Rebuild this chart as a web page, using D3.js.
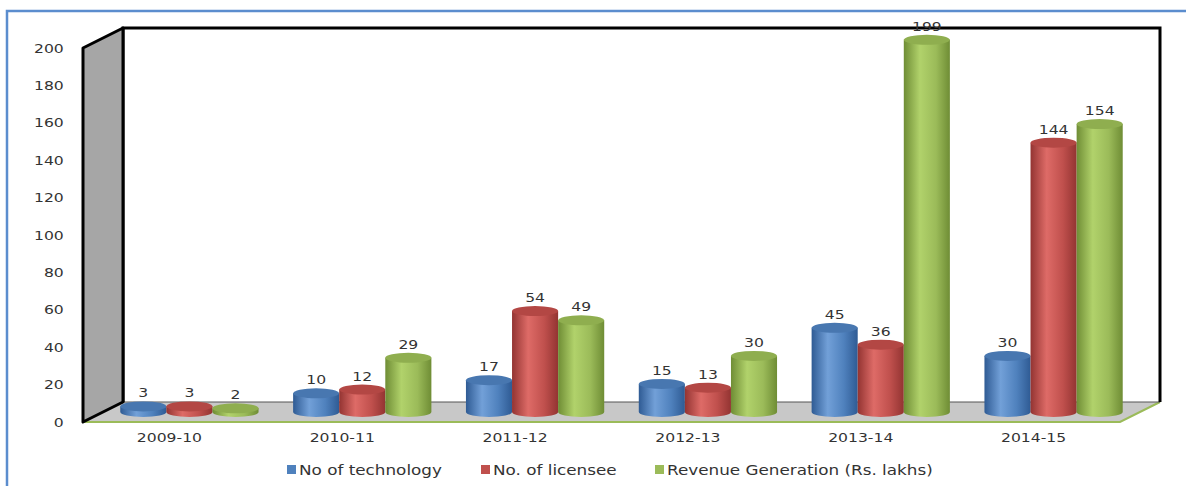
<!DOCTYPE html>
<html>
<head>
<meta charset="utf-8">
<script src="https://cdn.jsdelivr.net/npm/d3@7"></script>
<style>
  body { margin: 0; background: #fff; }
  text { font-family: "DejaVu Sans", sans-serif; fill: #333; }
</style>
</head>
<body>
<svg id="chart"></svg>
<script>
const years = ["2009-10", "2010-11", "2011-12", "2012-13", "2013-14", "2014-15"];
const technology = [3, 10, 17, 15, 45, 30];
const licensee = [3, 12, 54, 13, 36, 144];
const revenue = [2, 29, 49, 30, 199, 154];
const seriesNames = ["No of technology", "No. of licensee", "Revenue Generation (Rs. lakhs)"];
const yTicks = [0, 20, 40, 60, 80, 100, 120, 140, 160, 180, 200];

const W = 1186, H = 486;
const front = { left: 83, right: 1120, bottom: 422, top: 48 };
const depth = { dx: 40, dy: -20 };
const stretch = "scale(1.2,1)";

const series = [
  { name: seriesNames[0], values: technology, base: "#4f81bd", edge: "#2f5b94", hi: "#72a0d8", top: "#4877b0" },
  { name: seriesNames[1], values: licensee, base: "#c0504d", edge: "#933432", hi: "#de6b67", top: "#b34744" },
  { name: seriesNames[2], values: revenue, base: "#9bbb59", edge: "#6f8d35", hi: "#b1d26b", top: "#8fae4f" }
];

const svg = d3.select("#chart")
    .attr("width", W)
    .attr("height", H);

// gradients for cylinder bodies
const defs = svg.append("defs");
series.forEach((s, i) => {
  const g = defs.append("linearGradient")
      .attr("id", "cyl" + i)
      .attr("x1", "0%").attr("x2", "100%").attr("y1", "0%").attr("y2", "0%");
  g.append("stop").attr("offset", "0%").attr("stop-color", s.edge);
  g.append("stop").attr("offset", "35%").attr("stop-color", s.hi);
  g.append("stop").attr("offset", "70%").attr("stop-color", s.base);
  g.append("stop").attr("offset", "100%").attr("stop-color", s.edge);
});

// outer frame
svg.append("path")
    .attr("d", `M7,${H} V11 H${W}`)
    .attr("fill", "none")
    .attr("stroke", "#5b8dce")
    .attr("stroke-width", 2.5);

const x = d3.scaleBand()
    .domain(years)
    .range([front.left, front.right])
    .paddingInner(0.2)
    .paddingOuter(0.1);

const xSub = d3.scaleBand()
    .domain(d3.range(series.length))
    .range([0, x.bandwidth()]);

const y = d3.scaleLinear()
    .domain([0, 200])
    .range([front.bottom, front.top]);

const bx = front.left + depth.dx;
const by = front.bottom + depth.dy;
const topBack = front.top + depth.dy;

// floor
svg.append("path")
    .attr("d", `M${front.left},${front.bottom} H${front.right} L${front.right + depth.dx},${by} H${bx} Z`)
    .attr("fill", "#c8c8c8");
svg.append("path")
    .attr("d", `M${front.left},${front.bottom} H${front.right} L${front.right + depth.dx},${by}`)
    .attr("fill", "none")
    .attr("stroke", "#9bbb59")
    .attr("stroke-width", 2);

// back wall
svg.append("rect")
    .attr("x", bx).attr("y", topBack)
    .attr("width", front.right + depth.dx - bx)
    .attr("height", by - topBack)
    .attr("fill", "#fff");
svg.append("line")
    .attr("x1", bx).attr("x2", front.right + depth.dx)
    .attr("y1", by).attr("y2", by)
    .attr("stroke", "#555").attr("stroke-width", 1);
svg.append("path")
    .attr("d", `M${bx},${by} V${topBack} H${front.right + depth.dx} V${by}`)
    .attr("fill", "none")
    .attr("stroke", "#000")
    .attr("stroke-width", 3);

// left wall
svg.append("path")
    .attr("d", `M${front.left},${front.bottom} V${front.top} L${bx},${topBack} V${by} Z`)
    .attr("fill", "#a6a6a6")
    .attr("stroke", "#000")
    .attr("stroke-width", 3)
    .attr("stroke-linejoin", "round");

// axes
const yAxis = svg.append("g")
    .attr("transform", `translate(${front.left},0)`)
    .call(d3.axisLeft(y).tickValues(yTicks).tickSize(0).tickPadding(16));
yAxis.select(".domain").remove();
yAxis.selectAll("text")
    .attr("transform", stretch)
    .style("font-size", "13px")
    .style("font-family", "DejaVu Sans")
    .attr("fill", "#333");

const xAxis = svg.append("g")
    .attr("transform", `translate(0,${front.bottom})`)
    .call(d3.axisBottom(x).tickSize(0).tickPadding(11));
xAxis.select(".domain").remove();
xAxis.selectAll("text")
    .attr("transform", stretch)
    .style("font-size", "13px")
    .style("font-family", "DejaVu Sans")
    .attr("fill", "#333");

// cylinders
const rx = xSub.bandwidth() / 2;
const ry = 5;
const off = { x: depth.dx / 2, y: depth.dy / 2 };

const bars = [];
years.forEach((yr, j) => {
  series.forEach((s, i) => {
    bars.push({ year: yr, i, value: s.values[j] });
  });
});

const cyl = svg.append("g").selectAll("g")
    .data(bars)
    .join("g")
    .attr("transform", d => `translate(${x(d.year) + xSub(d.i) + rx + off.x},0)`);

cyl.append("path")
    .attr("d", d => {
      const b = y(0) + off.y, t = y(d.value) + off.y;
      return `M${-rx},${t} V${b} A${rx},${ry} 0 0 0 ${rx},${b} V${t} Z`;
    })
    .attr("fill", d => `url(#cyl${d.i})`);

cyl.append("ellipse")
    .attr("cx", 0)
    .attr("cy", d => y(d.value) + off.y)
    .attr("rx", rx)
    .attr("ry", ry)
    .attr("fill", d => series[d.i].top);

cyl.append("text")
    .attr("transform", d => `translate(0,${y(d.value) + off.y - ry - 4}) ${stretch}`)
    .attr("text-anchor", "middle")
    .style("font-size", "13px")
    .text(d => d.value);

// legend
const legendX = [287, 481, 655];
const legend = svg.append("g").selectAll("g")
    .data(series)
    .join("g")
    .attr("transform", (d, i) => `translate(${legendX[i]},469)`);
legend.append("rect")
    .attr("x", 0).attr("y", -4)
    .attr("width", 9).attr("height", 9)
    .attr("fill", d => d.base);
legend.append("text")
    .attr("transform", `translate(12,5.5) ${stretch}`)
    .style("font-size", "14px")
    .text(d => d.name);
</script>
</body>
</html>
